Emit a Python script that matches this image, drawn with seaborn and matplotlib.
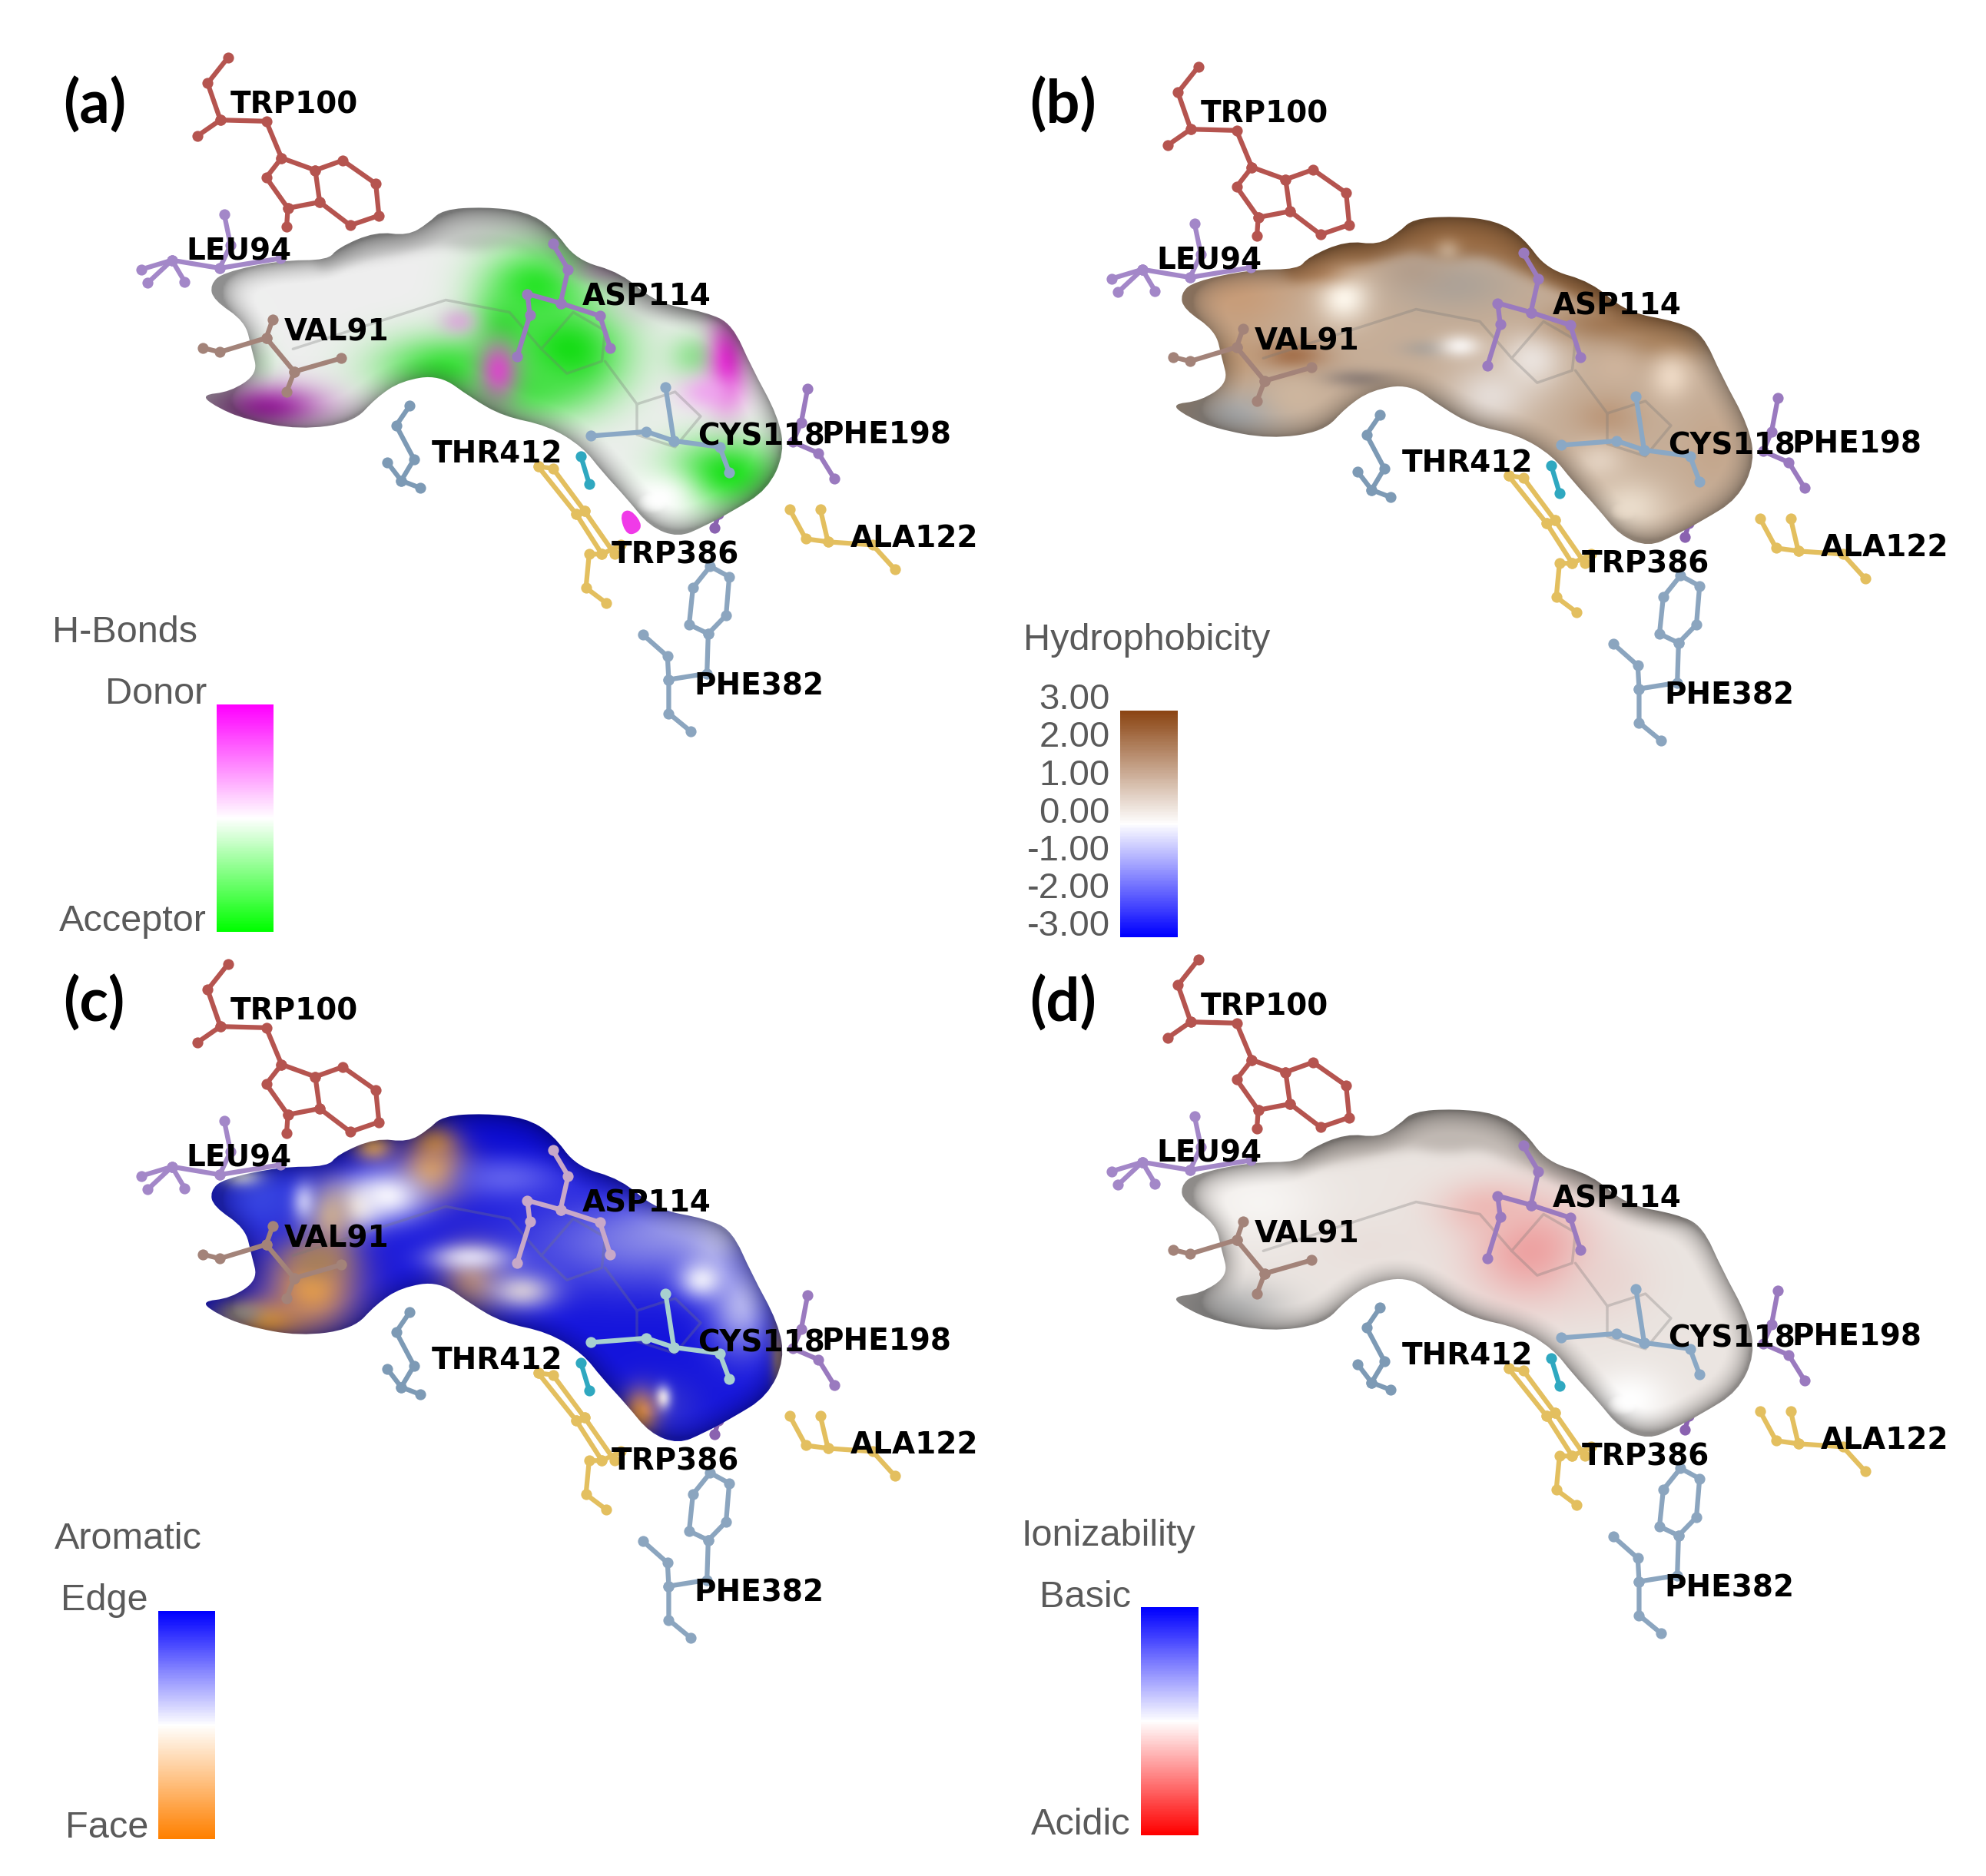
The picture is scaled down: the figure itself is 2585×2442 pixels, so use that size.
# docking surface figure, four panels with the same residues
import numpy as np
import pandas as pd
import matplotlib
matplotlib.use("Agg")
import matplotlib.pyplot as plt
from matplotlib.colors import LinearSegmentedColormap, to_rgb
from matplotlib.path import Path
from matplotlib.patches import PathPatch
import seaborn as sns

# residue sticks, one list per chain
trp100 = [[(358, 94), (326, 136), (346, 196), (310, 222)],
          [(346, 196), (418, 198), (442, 258), (495, 278), (502, 330), (452, 340), (418, 290), (442, 258)],
          [(495, 278), (538, 262), (590, 300), (595, 352), (550, 368), (502, 330)],
          [(452, 340), (450, 370)]]
leu94 = [[(352, 350), (362, 400), (345, 438), (270, 425), (232, 462)],
         [(270, 425), (222, 440)], [(270, 425), (290, 460)], [(345, 438), (440, 422)]]
val91 = [[(428, 522), (418, 552), (345, 575), (318, 568)],
         [(418, 552), (462, 607), (536, 585)], [(462, 607), (450, 640)]]
asp114 = [[(868, 398), (892, 440), (880, 495), (828, 480), (832, 515), (812, 582)],
          [(880, 495), (942, 516), (958, 568)]]
thr412 = [[(643, 663), (622, 695), (650, 750), (630, 785), (608, 755)],
          [(630, 785), (660, 797)]]
trp386 = [[(845, 762), (905, 840), (945, 905), (925, 905), (920, 960), (952, 985)],
          [(845, 762), (868, 765), (918, 835), (965, 905)],
          [(905, 840), (918, 835)], [(945, 905), (975, 890)]]
cys118 = [[(1045, 632), (1058, 720), (1015, 705), (928, 712)],
          [(1058, 720), (1130, 730), (1145, 772)]]
phe198 = [[(1268, 635), (1258, 690), (1245, 722), (1285, 740), (1310, 782)]]
ala122 = [[(1240, 832), (1265, 880), (1300, 885), (1288, 832)],
          [(1300, 885), (1370, 890), (1405, 930)]]
phe382 = [[(1010, 1037), (1048, 1072), (1050, 1110), (1050, 1165), (1085, 1195)],
          [(1050, 1110), (1110, 1100), (1112, 1035), (1082, 1020), (1088, 960), (1115, 925),
           (1145, 942), (1140, 1005), (1112, 1035)]]
cyan_bit = [[(912, 745), (925, 790)]]
purple_bit = [[(1128, 840), (1122, 862)]]
ligand = [[(460, 570), (700, 490), (800, 510), (850, 570), (890, 610), (945, 590), (950, 540), (900, 510), (850, 570)],
          [(950, 590), (1000, 660), (1060, 640), (1100, 680), (1060, 730), (1000, 710), (1000, 660)]]

residue_names = ["trp100", "leu94", "val91", "asp114", "thr412", "trp386", "cys118",
                 "phe198", "ala122", "phe382", "cyan", "purple"]
residue_chains = [trp100, leu94, val91, asp114, thr412, trp386, cys118,
                  phe198, ala122, phe382, cyan_bit, purple_bit]
residue_colors = ["#b5544f", "#a387c8", "#a38379", "#9a7abf", "#7d9ab5", "#e3bf5f", "#8aa8c5",
                  "#9a7abf", "#e3bf5f", "#8ba5bf", "#2fa8c0", "#8a62b0"]

label_text = ["TRP100", "LEU94", "ASP114", "VAL91", "THR412", "CYS118", "PHE198", "ALA122", "TRP386", "PHE382"]
label_x = [462, 375, 1015, 528, 780, 1195, 1392, 1435, 1060, 1192]
label_y = [171, 411, 485, 543, 741, 713, 711, 879, 906, 1121]

outline = [(315, 645), (362, 640), (405, 610), (395, 570), (385, 525), (335, 490), (330, 465), (350, 445),
           (440, 425), (515, 425), (530, 405), (590, 378), (640, 385), (672, 365), (695, 342), (760, 338),
           (825, 345), (868, 372), (905, 425), (975, 445), (1030, 495), (1110, 510), (1150, 530), (1180, 600),
           (1222, 680), (1232, 740), (1205, 800), (1150, 835), (1105, 860), (1065, 878), (1020, 860), (985, 815),
           (945, 770), (915, 730), (860, 695), (790, 680), (740, 650), (690, 612), (630, 622), (590, 650),
           (555, 690), (470, 702), (385, 685), (340, 665)]
# upper lobe of the surface, above the inner ridge
top_band = [(500, 445), (531, 433), (637, 412), (696, 399), (749, 412), (802, 399), (868, 433), (948, 466),
            (1014, 505), (1110, 530), (1180, 500), (900, 300), (600, 300), (480, 400)]

# surface colour patches: x, y, rx, ry, colour, strength
sphere = (1035, 815, 50, 38)
patches_a = [(840, 465, 65, 50, "#22e622", 0.95), (790, 530, 40, 40, "#30e030", 0.85), (890, 575, 75, 65, "#10dd10", 1.0),
             (700, 600, 85, 42, "#30e030", 0.95), (830, 630, 65, 42, "#40e040", 0.9), (1092, 582, 34, 30, "#70e070", 0.7),
             (1140, 775, 70, 46, "#18e018", 1.0), (410, 600, 22, 32, "#c8f0c8", 0.7), (420, 665, 72, 30, "#9c28a0", 1.0),
             (1142, 590, 24, 58, "#e030d0", 1.0), (782, 605, 25, 38, "#e040d0", 0.9), (720, 525, 24, 18, "#e0a0e0", 0.75),
             (1110, 640, 34, 22, "#f0a0f0", 0.8), (950, 440, 45, 18, "#b890b8", 0.7), (1000, 500, 40, 25, "#c8b8c8", 0.4),
             (1035, 815, 50, 38, "#ffffff", 1.0)]
patches_b = [(749, 395, 16, 16, "#c8a888", 0.9), (762, 450, 75, 35, "#a8a098", 0.8), (696, 425, 40, 25, "#b09a88", 0.7),
             (584, 470, 32, 32, "#fffaf0", 1.0), (418, 466, 75, 50, "#c89c78", 0.95), (537, 428, 50, 18, "#a87850", 0.8),
             (504, 566, 42, 20, "#a06a44", 0.9), (405, 571, 40, 40, "#c09670", 0.8), (418, 663, 62, 32, "#a8a8a8", 1.0),
             (716, 554, 32, 12, "#a8a098", 0.8), (769, 550, 26, 15, "#fbf8f6", 0.9), (815, 633, 52, 40, "#e6ded9", 0.95),
             (881, 571, 40, 40, "#f0ebe8", 0.85), (1014, 512, 85, 26, "#9a6e48", 0.85), (1100, 540, 60, 28, "#a0764f", 0.85),
             (1100, 600, 26, 30, "#f0dcc8", 0.9), (1014, 583, 30, 25, "#d4b8a0", 0.6), (1000, 667, 40, 28, "#b89070", 0.7),
             (1166, 717, 36, 50, "#c4a488", 0.7), (987, 738, 32, 25, "#e8d8c8", 0.8), (604, 603, 42, 12, "#8f8078", 0.9),
             (716, 660, 40, 28, "#b8a898", 0.8), (511, 633, 40, 30, "#d0b8a0", 0.8), (1035, 815, 50, 38, "#eadccb", 1.0)]
patches_c = [(681, 385, 30, 26, "#a87048", 0.95), (681, 431, 42, 36, "#d8964f", 1.0), (585, 391, 26, 20, "#e0a060", 0.95),
             (608, 472, 50, 34, "#fbfaff", 0.95), (562, 489, 30, 30, "#ffffff", 0.85), (516, 502, 32, 46, "#d8b890", 0.95),
             (489, 623, 60, 62, "#e09a50", 1.0), (496, 577, 40, 26, "#a88058", 0.9), (416, 677, 50, 28, "#d89040", 1.0),
             (376, 665, 28, 16, "#a09890", 0.9), (410, 477, 60, 50, "#3a48e0", 0.9), (377, 439, 25, 14, "#ffffff", 0.8),
             (476, 481, 15, 25, "#e8e8ff", 0.7), (740, 610, 40, 45, "#b08070", 0.95), (820, 627, 42, 25, "#e8dcd8", 0.9),
             (740, 573, 50, 18, "#f6f4ff", 0.85), (1005, 548, 150, 60, "#8080e8", 0.9), (1071, 527, 70, 30, "#a0a0e8", 0.8),
             (1124, 543, 36, 40, "#b8b8e8", 0.9), (1104, 610, 30, 25, "#ffffff", 0.9), (1164, 652, 40, 60, "#c0c0f0", 0.9),
             (793, 443, 70, 28, "#6868f0", 0.85), (1223, 736, 10, 50, "#a08060", 0.8), (1038, 815, 50, 38, "#3030d0", 1.0),
             (1041, 803, 10, 15, "#ffffff", 0.85), (1005, 828, 22, 30, "#e09050", 1.0)]
patches_d = [(881, 570, 75, 65, "#ee9e9e", 0.95), (810, 500, 60, 35, "#eeb4b0", 0.8),
             (620, 560, 80, 35, "#e8dcd8", 0.6), (1000, 620, 60, 50, "#e8d0cc", 0.6), (450, 490, 80, 50, "#f8f6f4", 0.9),
             (418, 663, 62, 32, "#b4b4b4", 0.95), (1035, 815, 50, 38, "#ffffff", 1.0)]

panel_letters = ["(a)", "(b)", "(c)", "(d)"]
panel_dx = [0, 1263, 0, 1263]
panel_dy = [0, 12, 1180, 1174]
letter_x = [82, 1340, 82, 1340]
letter_y = [137, 137, 1306, 1306]
base_colors = ["#efefef", "#c6ae98", "#1414dc", "#ebe5e1"]
band_colors = ["#bcbcbc", "#8f5c30", "#0a0ad0", "#b8b0aa"]
rim_values = [0.6, 0.68, 0.72, 0.6]
surface_patches = [patches_a, patches_b, patches_c, patches_d]

# legends
legend_titles = ["H-Bonds", "Hydrophobicity", "Aromatic", "Ionizability"]
title_x = [68, 1332, 71, 1330]
title_y = [824, 833, 2004, 1999]
bar_left = [282, 1458, 206, 1485]
bar_right = [356, 1533, 280, 1560]
bar_top = [917, 925, 2097, 2092]
bar_bottom = [1213, 1220, 2394, 2389]
bar_colors = [["#ff00ff", "#ffffff", "#00ff00"], ["#8b4513", "#ffffff", "#0000ff"],
              ["#0000ff", "#ffffff", "#ff8000"], ["#0000ff", "#ffffff", "#ff0000"]]
top_labels = ["Donor", None, "Edge", "Basic"]
bottom_labels = ["Acceptor", None, "Face", "Acidic"]
end_label_right = [269, None, 193, 1472]
top_label_y = [903, None, 2084, 2079]
bottom_label_y = [1200, None, 2379, 2375]
hydro_ticks = ["3.00", "2.00", "1.00", "0.00", "-1.00", "-2.00", "-3.00"]
hydro_tick_y = [911, 960, 1010, 1059, 1108, 1157, 1206]

W, H = 2585, 2442
SX, SY = 0.829, 0.797  # picked-off units to image pixels

sns.set_theme(style="white")
plt.rcParams["font.family"] = ["Liberation Sans", "DejaVu Sans"]

fig = plt.figure(figsize=(W / 100, H / 100), dpi=100)
ax = fig.add_axes([0, 0, 1, 1])
ax.set_xlim(0, W)
ax.set_ylim(H, 0)
ax.set_autoscale_on(False)
ax.axis("off")


def smooth_path(pts, dx, dy):
    p = np.array(pts, dtype=float)
    p = p * [SX, SY] + [dx, dy]
    mids = (p + np.roll(p, -1, axis=0)) / 2
    verts = [mids[-1]]
    codes = [Path.MOVETO]
    for i in range(len(p)):
        verts += [p[i], mids[i]]
        codes += [Path.CURVE3, Path.CURVE3]
    return Path(verts, codes)


def blur(a, sigma):
    t = np.arange(-3 * sigma, 3 * sigma + 1)
    k = np.exp(-t ** 2 / (2 * sigma ** 2))
    k = k / k.sum()
    a = np.apply_along_axis(lambda r: np.convolve(r, k, mode="same"), 0, a)
    return np.apply_along_axis(lambda r: np.convolve(r, k, mode="same"), 1, a)


# grid for the surface, in picked-off units
gx, gy = np.meshgrid(np.arange(270, 1270, 3.0), np.arange(310, 910, 3.0))
grid_pts = np.column_stack([gx.ravel() * SX, gy.ravel() * SY])
inside = smooth_path(outline, 0, 0).contains_points(grid_pts).reshape(gx.shape).astype(float)
shade = np.clip((blur(inside, 9) - 0.5) / 0.42, 0, 1) ** 0.7
band_mask = blur(smooth_path(top_band, 0, 0).contains_points(grid_pts).reshape(gx.shape).astype(float), 3)


def draw_surface(n):
    rgb = np.ones(gx.shape + (3,)) * to_rgb(base_colors[n])
    rgb = rgb * (1 - 0.85 * band_mask[..., None]) + np.array(to_rgb(band_colors[n])) * 0.85 * band_mask[..., None]
    for x0, y0, rx, ry, col, strength in surface_patches[n]:
        w = strength * np.exp(-(((gx - x0) / (1.25 * rx)) ** 2 + ((gy - y0) / (1.25 * ry)) ** 2))
        rgb = rgb * (1 - w[..., None]) + np.array(to_rgb(col)) * w[..., None]
    sx, sy, srx, sry = sphere
    rim = rim_values[n]
    sh = rim + (1 - rim) * shade
    # the little sphere keeps its own bright face
    sh = np.maximum(sh, np.exp(-(((gx - sx) / srx) ** 2 + ((gy - sy) / sry) ** 2) ** 2))
    rgb = np.clip(rgb * sh[..., None], 0, 1)
    dx, dy = panel_dx[n], panel_dy[n]
    ext = [gx.min() * SX + dx, gx.max() * SX + dx, gy.max() * SY + dy, gy.min() * SY + dy]
    im = ax.imshow(rgb, extent=ext, aspect="auto", zorder=2, interpolation="bilinear")
    patch = PathPatch(smooth_path(outline, dx, dy), facecolor="none", edgecolor="none", transform=ax.transData)
    ax.add_patch(patch)
    im.set_clip_path(patch)


def chains_frame(chains, dx, dy):
    rows = []
    for i, chain in enumerate(chains):
        for x, y in chain:
            rows.append((i, x * SX + dx, y * SY + dy))
    return pd.DataFrame(rows, columns=["chain", "x", "y"])


for n in range(4):
    dx, dy = panel_dx[n], panel_dy[n]

    # the small hidden pieces sit behind the surface
    for name, chains, col in zip(residue_names, residue_chains, residue_colors):
        behind = name in ["cyan", "purple"]
        if n == 2 and name == "asp114":
            col = "#c8a8c8"
        if n == 2 and name == "cys118":
            col = "#a8d0d0"
        df = chains_frame(chains, dx, dy)
        z = 1 if behind else 4
        sns.lineplot(data=df, x="x", y="y", units="chain", estimator=None, sort=False, color=col,
                     linewidth=4.5, legend=False, ax=ax, zorder=z)
        sns.scatterplot(data=df, x="x", y="y", color=col, s=105, linewidth=0, legend=False, ax=ax, zorder=z)

    draw_surface(n)
    lig = chains_frame(ligand, dx, dy)
    sns.lineplot(data=lig, x="x", y="y", units="chain", estimator=None, sort=False, color="#777777",
                 linewidth=2.5, alpha=0.3, legend=False, ax=ax, zorder=3)

    # bright magenta spot only shows in (a)
    if n == 0:
        spot = smooth_path([(972, 840), (990, 830), (1012, 862), (985, 878)], dx, dy)
        ax.add_patch(PathPatch(spot, facecolor="#f03ae8", edgecolor="none", zorder=1.5))

    for t, x, y in zip(label_text, label_x, label_y):
        ax.text(x * SX + dx, y * SY + dy, t, family="DejaVu Sans", weight="bold", fontsize=28,
                color="black", ha="center", va="center", zorder=6)

    ax.text(letter_x[n], letter_y[n], panel_letters[n], family="Lato", weight="bold", fontsize=56,
            color="black", ha="left", va="center", zorder=6)

    # colour key, first row is the top of the bar
    cax = fig.add_axes([bar_left[n] / W, 1 - bar_bottom[n] / H,
                        (bar_right[n] - bar_left[n]) / W, (bar_bottom[n] - bar_top[n]) / H])
    grad = np.linspace(-1, 1, 150).reshape(-1, 1)
    cmap = LinearSegmentedColormap.from_list("key", bar_colors[n])
    sns.heatmap(grad, cmap=cmap, vmin=-1, vmax=1, cbar=False, xticklabels=False, yticklabels=False, ax=cax)

    ax.text(title_x[n], title_y[n], legend_titles[n], fontsize=35, color="#5a5a5a", ha="left", va="center")
    if top_labels[n] is not None:
        ax.text(end_label_right[n], top_label_y[n], top_labels[n], fontsize=35, color="#5a5a5a", ha="right", va="center")
        ax.text(end_label_right[n], bottom_label_y[n], bottom_labels[n], fontsize=35, color="#5a5a5a", ha="right", va="center")

for t, y in zip(hydro_ticks, hydro_tick_y):
    ax.text(1445, y, t, fontsize=34, color="#5a5a5a", ha="right", va="center")

ax.set_xlim(0, W)
ax.set_ylim(H, 0)
ax.axis("off")
fig.savefig("out.png", dpi=100, facecolor="white")
